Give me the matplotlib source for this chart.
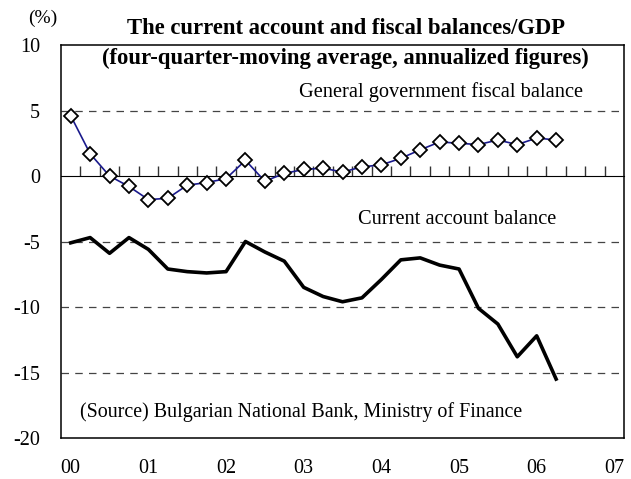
import numpy as np
import matplotlib.pyplot as plt

plt.rcParams['font.family'] = 'Liberation Serif'
plt.rcParams['axes.unicode_minus'] = False

# quarterly, 2000Q1 .. 2006Q2
fiscal = [4.6, 1.7, 0.0, -0.8, -1.8, -1.7, -0.7, -0.5, -0.2, 1.2, -0.4, 0.2, 0.5,
          0.6, 0.3, 0.7, 0.85, 1.35, 2.0, 2.6, 2.5, 2.4, 2.75, 2.4, 2.9, 2.75]
current = [-5.1, -4.7, -5.9, -4.7, -5.6, -7.1, -7.3, -7.4, -7.3, -5.0, -5.8, -6.5, -8.5,
           -9.2, -9.6, -9.3, -7.9, -6.4, -6.25, -6.8, -7.1, -10.1, -11.3, -13.8, -12.2, -15.5]
year_labels = ['00', '01', '02', '03', '04', '05', '06', '07']

q = np.arange(len(fiscal))

fig = plt.figure(figsize=(6.31, 4.79), dpi=100)
ax = fig.add_axes([0.0967, 0.0856, 0.8923, 0.8204])

for yv in [5, -5, -10, -15]:
    ax.axhline(yv, color='#444444', lw=0.9, dashes=(6, 5), zorder=1)

ax.plot(q, current, color='black', lw=2.6, zorder=3)
ax.plot(q, fiscal, color='#1a1a8c', lw=1.2, marker='D', ms=7,
        mfc='white', mec='black', mew=1.3, zorder=4)

ax.set_xlim(-0.5, 28.5)
ax.set_ylim(-20, 10)
ax.set_yticks([10, 5, 0, -5, -10, -15, -20])
ax.set_xticks(np.arange(0, 29, 4))
ax.set_xticklabels(year_labels)
ax.tick_params(axis='both', length=0, labelsize=14.5)
ax.tick_params(axis='y', pad=15)
ax.tick_params(axis='x', pad=15)
for s in ax.spines.values():
    s.set_linewidth(1.1)

# zero line with quarter ticks pointing up
zero = ax.secondary_xaxis(2 / 3)
zero.set_xticks(np.arange(0.5, 28, 1))
zero.set_xticklabels([])
zero.tick_params(direction='out', length=7, width=1, color='#333333')
zero.spines['bottom'].set_color('#333333')
zero.spines['bottom'].set_linewidth(1.1)

fig.text(0.045, 0.962, '(%)', fontsize=14, ha='left', va='center')
fig.text(0.548, 0.941, 'The current account and fiscal balances/GDP',
         fontsize=16.3, fontweight='bold', ha='center', va='center')
fig.text(0.548, 0.879, '(four-quarter-moving average, annualized figures)',
         fontsize=16.3, fontweight='bold', ha='center', va='center')

ax.text(0.675, 0.880, 'General government fiscal balance', transform=ax.transAxes,
        fontsize=14.7, ha='center', va='center')
ax.text(0.703, 0.555, 'Current account balance', transform=ax.transAxes,
        fontsize=14.7, ha='center', va='center')
ax.text(0.034, 0.066, '(Source) Bulgarian National Bank, Ministry of Finance',
        transform=ax.transAxes, fontsize=14.4, ha='left', va='center')

fig.savefig('out.png', dpi=100)
